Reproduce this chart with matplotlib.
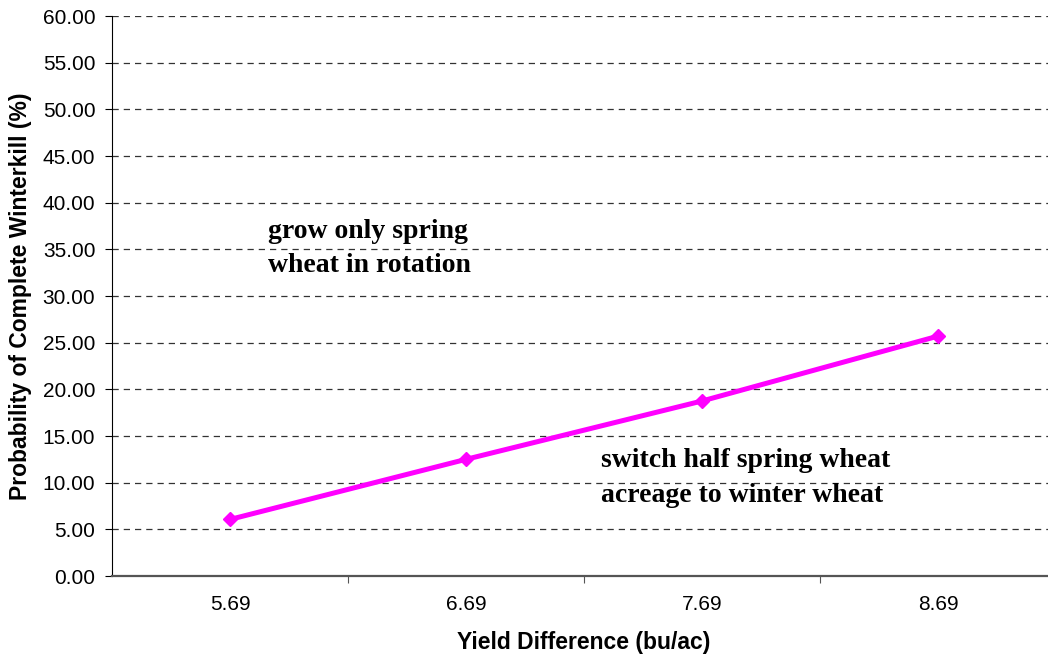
import matplotlib.pyplot as plt
from matplotlib.ticker import FixedLocator, NullFormatter

# yield difference categories and winterkill probability (%)
categories = ['5.69', '6.69', '7.69', '8.69']
probability = [6.06, 12.5, 18.75, 25.7]
y_ticks = [0, 5, 10, 15, 20, 25, 30, 35, 40, 45, 50, 55, 60]

W, H = 1048, 658
fig = plt.figure(figsize=(W / 100, H / 100), dpi=100)
ax = fig.add_axes([112 / W, (H - 576) / H, 944 / W, 560 / H])

x = list(range(len(categories)))
ax.plot(x, probability, color='#ff00ff', lw=3.6, marker='D', ms=7.5,
        solid_capstyle='round', zorder=3)

ax.set_xlim(-0.5, len(categories) - 0.5)
ax.set_ylim(0, 60)
ax.set_yticks(y_ticks)
ax.set_yticklabels([f'{v:.2f}' for v in y_ticks], fontsize=15,
                   family='Liberation Sans')
ax.yaxis.grid(True, ls=(0, (5, 4)), color='#333333', lw=0.9)
ax.set_axisbelow(True)

# category labels sit between the boundary ticks
ax.xaxis.set_major_locator(FixedLocator([0.5, 1.5, 2.5]))
ax.xaxis.set_major_formatter(NullFormatter())
ax.xaxis.set_minor_locator(FixedLocator(x))
ax.set_xticklabels(categories, minor=True, fontsize=15, family='Liberation Sans')
ax.tick_params(axis='x', which='minor', length=0, pad=14)
ax.tick_params(axis='x', which='major', length=5, direction='out', color='#555555')
ax.tick_params(axis='y', length=5, direction='out', pad=7)

for s in ['top', 'right']:
    ax.spines[s].set_visible(False)
ax.spines['left'].set_color('black')
ax.spines['bottom'].set_color('#555555')
ax.spines['bottom'].set_linewidth(1.6)

fig.text(21 / W, 1 - 296 / H, 'Probability of Complete Winterkill (%)', rotation=90,
         ha='center', va='center', fontsize=16.5, fontweight='bold',
         family='Liberation Sans')
fig.text(584 / W, 1 - 643 / H, 'Yield Difference (bu/ac)', ha='center', va='center',
         fontsize=16.5, fontweight='bold', family='Liberation Sans')

# region notes, one line each
notes = [
    (268, 238, 'grow only spring'),
    (268, 272, 'wheat in rotation'),
    (601, 467, 'switch half spring wheat'),
    (601, 502, 'acreage to winter wheat'),
]
for nx, ny, txt in notes:
    fig.text(nx / W, 1 - ny / H, txt, ha='left', va='baseline', fontsize=20,
             fontweight='bold', family='Liberation Serif')

fig.savefig('out.png', dpi=100)
